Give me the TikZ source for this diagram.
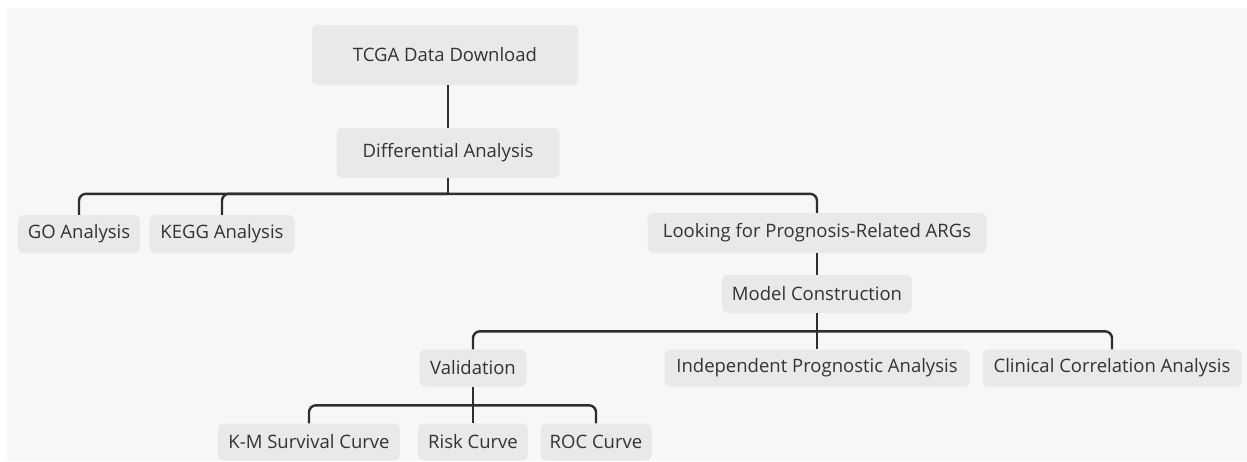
\documentclass[tikz,border=0pt]{standalone}
\usepackage{fontspec}
\setmainfont{Open Sans}
\begin{document}
\begin{tikzpicture}[x=1pt,y=-1pt,
  topic/.style={fill=boxgray, rounded corners=6pt, text=textgray,
    font=\fontsize{18.5}{22}\selectfont, inner sep=0pt, anchor=center},
  link/.style={draw=linegray, line width=2.4pt, rounded corners=7pt},
  trunk/.style={draw=linegray, line width=2.4pt}]
\definecolor{boxgray}{HTML}{E9E9E9}
\definecolor{bggray}{HTML}{F7F7F7}
\definecolor{textgray}{HTML}{333333}
\definecolor{linegray}{HTML}{2E2E2E}
\useasboundingbox (0,0) rectangle (1247,461);
\fill[white] (0,0) rectangle (1247,461);
\fill[bggray] (7,8) rectangle (1247,461);

% topic nodes
\node[topic, minimum width=266pt, minimum height=60pt] (tcga) at (445,55) {TCGA Data Download};
\node[topic, minimum width=223pt, minimum height=50pt] (diff) at (448,153) {Differential Analysis};
\node[topic, minimum width=122pt, minimum height=38pt] (go) at (79,234) {GO Analysis};
\node[topic, minimum width=145pt, minimum height=38pt] (kegg) at (222,234) {KEGG Analysis};
\node[topic, minimum width=339pt, minimum height=40pt] (look) at (817,233) {Looking for Prognosis-Related ARGs};
\node[topic, minimum width=190pt, minimum height=38pt] (model) at (817,294) {Model Construction};
\node[topic, minimum width=107pt, minimum height=37pt] (valid) at (473,368) {Validation};
\node[topic, minimum width=305pt, minimum height=37pt] (indep) at (817,368) {Independent Prognostic Analysis};
\node[topic, minimum width=259pt, minimum height=37pt] (clin) at (1112,368) {Clinical Correlation Analysis};
\node[topic, minimum width=182pt, minimum height=37pt] (km) at (309,442) {K-M Survival Curve};
\node[topic, minimum width=110pt, minimum height=37pt] (risk) at (473,442) {Risk Curve};
\node[topic, minimum width=111pt, minimum height=37pt] (roc) at (596,442) {ROC Curve};

% bus junctions below each parent
\coordinate (jdiff) at ([yshift=19pt]look.north -| diff.south);
\coordinate (jmodel) at ([yshift=18pt]indep.north);
\coordinate (jvalid) at ([yshift=18pt]risk.north);

% single links
\draw[trunk] (tcga.south -| diff.north) -- (diff.north);
\draw[trunk] (look.south -| model.north) -- (model.north);

% trunk, bus and rounded drops
\draw[trunk] (diff.south) -- (jdiff);
\foreach \c in {go,kegg,look}
  \draw[link] (jdiff) -| (\c.north);
\draw[trunk] (model.south) -- (indep.north);
\foreach \c in {valid,clin}
  \draw[link] (jmodel) -| (\c.north);
\draw[trunk] (valid.south) -- (risk.north);
\foreach \c in {km,roc}
  \draw[link] (jvalid) -| (\c.north);
\end{tikzpicture}
\end{document}
